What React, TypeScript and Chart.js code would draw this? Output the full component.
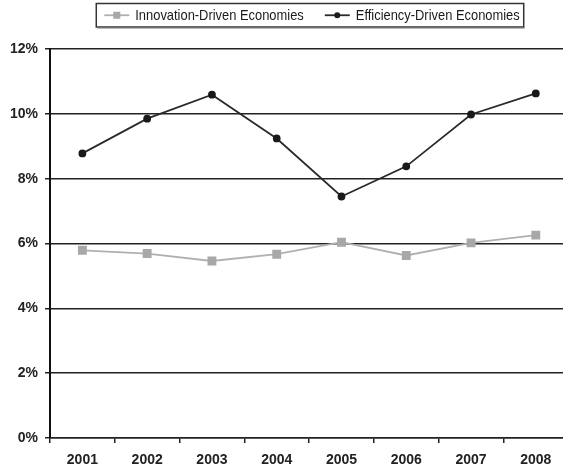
import React, { useEffect, useRef } from "react";
import { Chart, registerables } from "chart.js";

Chart.register(...registerables);

// Years on the horizontal axis
const years = ["2001", "2002", "2003", "2004", "2005", "2006", "2007", "2008"];

// Rates (%) for each economy group
const innovationDriven = [5.79, 5.69, 5.46, 5.67, 6.04, 5.63, 6.02, 6.26];
const efficiencyDriven = [8.78, 9.85, 10.59, 9.24, 7.45, 8.38, 9.98, 10.63];

const seriesNames = ["Innovation-Driven Economies", "Efficiency-Driven Economies"];

const Y_MIN = 0;
const Y_MAX = 12;
const Y_STEP = 2;

const TICK_FONT = { family: "'Liberation Sans', Arial, sans-serif", size: 14, weight: "bold" as const };
const LEGEND_FONT = "15px 'Liberation Sans', Arial, sans-serif";
// legend text is drawn horizontally condensed
const LEGEND_SQUEEZE = 0.86;

// Framed legend with a line + marker sample for each series
const framedLegend = {
  id: "framedLegend",
  afterDraw(chart: any) {
    const ctx: CanvasRenderingContext2D = chart.ctx;
    ctx.save();
    ctx.font = LEGEND_FONT;
    const items = chart.data.datasets.map((ds: any) => ({
      label: ds.label as string,
      color: ds.borderColor as string,
      fill: ds.pointBackgroundColor as string,
      style: ds.pointStyle as string,
      w: ctx.measureText(ds.label).width * LEGEND_SQUEEZE,
    }));
    const padL = 8, sample = 25, gap = 6, itemGap = 21, padR = 4;
    let total = padL + padR + itemGap * (items.length - 1);
    items.forEach((it: any) => (total += sample + gap + it.w));
    const cx = 310;
    const left = cx - total / 2;
    const top = 3.5;
    const h = 23.5;
    const midY = top + h / 2;

    ctx.fillStyle = "#ffffff";
    ctx.fillRect(left, top, total, h);
    ctx.strokeStyle = "#333333";
    ctx.lineWidth = 1.5;
    ctx.strokeRect(left, top, total, h);
    ctx.beginPath();
    ctx.moveTo(left + 1, top + h + 1);
    ctx.lineTo(left + total + 1, top + h + 1);
    ctx.strokeStyle = "#777777";
    ctx.lineWidth = 1;
    ctx.stroke();

    let x = left + padL;
    items.forEach((it: any) => {
      ctx.strokeStyle = it.color;
      ctx.lineWidth = 1.8;
      ctx.beginPath();
      ctx.moveTo(x, midY);
      ctx.lineTo(x + sample, midY);
      ctx.stroke();
      const mx = x + sample / 2;
      ctx.fillStyle = it.fill;
      if (it.style === "rect") {
        ctx.fillRect(mx - 3.5, midY - 3.5, 7, 7);
      } else {
        ctx.beginPath();
        ctx.arc(mx, midY, 3, 0, Math.PI * 2);
        ctx.fill();
      }
      x += sample + gap;
      ctx.save();
      ctx.translate(x, midY + 0.5);
      ctx.scale(LEGEND_SQUEEZE, 1);
      ctx.fillStyle = "#1a1a1a";
      ctx.textBaseline = "middle";
      ctx.textAlign = "left";
      ctx.fillText(it.label, 0, 0);
      ctx.restore();
      x += it.w + itemGap;
    });
    ctx.restore();
  },
};

export default function App() {
  const canvasRef = useRef<HTMLCanvasElement | null>(null);

  useEffect(() => {
    if (!canvasRef.current) return;
    const chart = new Chart(canvasRef.current, {
      type: "line",
      data: {
        labels: years,
        datasets: [
          {
            label: seriesNames[0],
            data: innovationDriven,
            borderColor: "#b0b0b0",
            backgroundColor: "#b0b0b0",
            pointBackgroundColor: "#a8a8a8",
            pointBorderColor: "#a8a8a8",
            pointStyle: "rect",
            pointRadius: 5,
            borderWidth: 1.8,
            tension: 0,
          },
          {
            label: seriesNames[1],
            data: efficiencyDriven,
            borderColor: "#2a2a2a",
            backgroundColor: "#2a2a2a",
            pointBackgroundColor: "#1a1a1a",
            pointBorderColor: "#1a1a1a",
            pointStyle: "circle",
            pointRadius: 3,
            borderWidth: 1.8,
            tension: 0,
          },
        ],
      },
      options: {
        responsive: false,
        animation: false,
        layout: { padding: { top: 49, right: 4, left: 0, bottom: 0 } },
        plugins: {
          legend: { display: false },
          tooltip: { enabled: false },
        },
        scales: {
          x: {
            offset: true,
            afterFit: (scale: any) => {
              scale.height = 32;
            },
            grid: {
              display: true,
              offset: true,
              drawOnChartArea: false,
              drawTicks: true,
              tickLength: 5,
              color: "#222222",
              lineWidth: 1.5,
            },
            border: { display: true, color: "#222222", width: 1.5 },
            ticks: { color: "#222222", font: TICK_FONT, padding: 9, maxRotation: 0 },
          },
          y: {
            min: Y_MIN,
            max: Y_MAX,
            afterFit: (scale: any) => {
              scale.width = 50;
            },
            grid: {
              color: "#222222",
              lineWidth: 1.5,
              drawTicks: true,
              tickLength: 5,
            },
            border: { display: true, color: "#111111", width: 2 },
            ticks: {
              stepSize: Y_STEP,
              color: "#222222",
              font: TICK_FONT,
              padding: 7,
              callback: (v: any) => `${v}%`,
            },
          },
        },
      },
      plugins: [framedLegend],
    });
    return () => chart.destroy();
  }, []);

  return (
    <div style={{ position: "fixed", left: 0, top: 0, width: 575, height: 470, background: "#ffffff" }}>
      <canvas ref={canvasRef} width={575} height={470} />
    </div>
  );
}
